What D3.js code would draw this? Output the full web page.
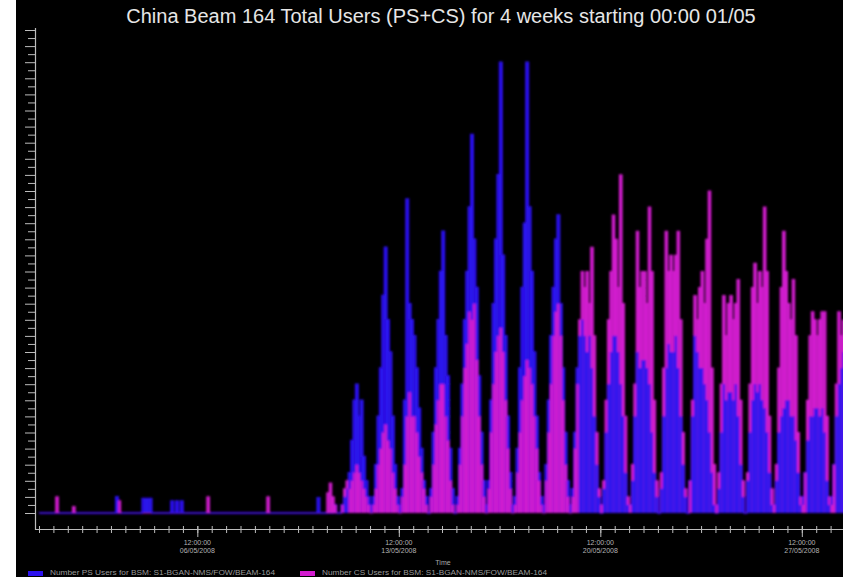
<!DOCTYPE html>
<html><head><meta charset="utf-8">
<script src="https://cdn.jsdelivr.net/npm/d3@7"></script>
<style>
html,body{margin:0;padding:0;background:#fff;}
svg{display:block;}
text{font-family:"Liberation Sans",Arial,sans-serif;}
</style></head><body>
<svg id="c" width="843" height="577"></svg>
<script>
const titleText = "China Beam 164 Total Users (PS+CS) for 4 weeks starting 00:00 01/05";
const seriesNames = ["Number PS Users for BSM: S1-BGAN-NMS/FOW/BEAM-164",
                     "Number CS Users for BSM: S1-BGAN-NMS/FOW/BEAM-164"];
const seriesColors = ["#2c12ee", "#d21ccf"];
const xAxisTitle = "Time";
const startTime = Date.UTC(2008, 4, 1, 0, 0);
const endTime = Date.UTC(2008, 4, 29, 0, 0);
const sampleHours = 2;
const majorTicks = [
  {t: Date.UTC(2008, 4, 6, 12), time: "12:00:00", date: "06/05/2008"},
  {t: Date.UTC(2008, 4, 13, 12), time: "12:00:00", date: "13/05/2008"},
  {t: Date.UTC(2008, 4, 20, 12), time: "12:00:00", date: "20/05/2008"},
  {t: Date.UTC(2008, 4, 27, 12), time: "12:00:00", date: "27/05/2008"}
];

// PS users, one value every 2 hours (12 per day)
const psWeek1 = [
  0,0,0,0,0,0,0,0,0,0,0,0,
  0,0,0,0,0,0,0,0,0,0,0,0,
  0,0,0,0,0,0,0,0,2,0,0,0,
  0,0,0,0,0,0,0,1.8,1.8,1.8,1.8,0,
  0,0,0,0,0,0,0,1.5,0,1.5,0,1.5,
  0,0,0,0,0,0,0,0,0,0,0,0,
  0,0,0,0,0,0,0,0,0,0,0,0];
const psWeek2 = [
  0,0,0,0,0,0,0,0,0,0,0,0,
  0,0,0,0,0,0,0,0,0,0,0,0,
  0,0,0,0,0,0,0,0,1.9,0,0,0,
  0,0,0,1,0,0,1,2,3,5,9,14,
  16,12,14,7,4,2,1,2,6,12,18,27,
  33,24,20,12,6,2,1,3,14,39,26,24,
  22,18,13,8,4,2,0,3,10,18,24,30];
const psWeek3 = [
  35,22,17,8,3,0,2,8,16,24,30,38,
  47,34,28,17,10,4,1,4,14,26,34,42,
  56,32,22,12,5,1,2,8,18,28,36,56,
  38,30,20,12,5,2,1,6,14,22,28,34,
  37,26,18,10,4,1,3,10,18,22,24,22,
  20,22,18,12,6,2,0,3,10,16,20,22,
  22,20,16,12,5,1,1,4,12,20,18,19];
const psWeek4 = [
  19,18,16,10,5,2,0,3,12,18,21,20,
  20,22,18,12,6,2,0,4,12,22,20,18,
  18,16,14,10,5,1,0,3,10,16,14,15,
  15,14,16,12,6,2,0,4,10,14,16,15,
  16,14,13,10,5,1,1,4,10,12,13,14,
  14,12,12,9,5,1,2,5,9,12,12,13,
  13,12,13,10,4,1,2,6,12,16,18,20];

// CS users, one value every 2 hours (12 per day)
const csWeek1 = [
  0,0,0,0,0,0,0,2,0,0,0,0,
  0,0,0.8,0,0,0,0,0,0,0,0,0,
  0,0,0,0,0,0,0,0,0,1.5,0,0,
  0,0,0,0,0,0,0,0,0,0,0,0,
  0,0,0,0,0,0,0,0,0,0,0,0,
  0,0,0,0,0,0,0,0,0,0,2,0,
  0,0,0,0,0,0,0,0,0,0,0,0];
const csWeek2 = [
  0,0,0,0,0,0,0,0,0,0,0,2,
  0,0,0,0,0,0,0,0,0,0,0,0,
  0,0,0,0,0,0,0,0,0,0,0,0,
  2.5,3.7,2,1,0,0,1,3,4,3,4,5,
  6,5,4,3,2,1,0,1,3,6,8,10,
  11,9,8,5,3,1,0,2,6,12,15,12,
  12,10,7,5,3,1,0,2,6,11,14,16];
const csWeek3 = [
  16,12,9,4,1,0,1,6,12,18,21,25,
  24,26,19,12,6,2,0,3,10,16,20,22,
  23,20,14,8,3,0,1,5,10,14,17,19,
  18,16,12,8,4,1,0,4,10,16,22,25,
  26,22,14,6,2,0,2,8,16,24,30,28,
  30,26,33,22,10,3,1,4,14,24,30,37,
  34,28,42,26,12,2,1,6,16,35,28,30];
const csWeek4 = [
  30,26,38,30,14,4,0,5,18,35,30,32,
  30,32,35,24,10,3,0,4,14,27,24,28,
  30,26,34,40,18,6,1,5,16,27,22,26,
  27,24,26,29,14,4,0,5,16,28,31,26,
  30,28,38,30,12,3,1,6,18,28,35,30,
  26,24,29,22,10,2,1,5,14,22,25,24,
  22,24,25,25,12,2,1,6,16,25,22,24];

const psUsers = [...psWeek1, ...psWeek2, ...psWeek3, ...psWeek4];
const csUsers = [...csWeek1, ...csWeek2, ...csWeek3, ...csWeek4];
const yMax = 60;

const svg = d3.select("#c");
const W = 843, H = 577;
svg.append("rect").attr("x", 16).attr("y", 0).attr("width", W - 16).attr("height", H).attr("fill", "#000");

const x = d3.scaleUtc().domain([startTime, endTime]).range([39, 845]);
const y = d3.scaleLinear().domain([0, yMax]).range([513, 30]);

const step = sampleHours * 3600 * 1000;
const rows = psUsers.map((v, i) => ({t: startTime + i * step, ps: v, cs: csUsers[i]}));

// blur filter to soften like the source image
const defs = svg.append("defs");
defs.append("filter").attr("id", "soft").attr("x", "-5%").attr("y", "-5%").attr("width", "110%").attr("height", "110%")
  .append("feGaussianBlur").attr("stdDeviation", 0.9);

const plot = svg.append("g").attr("filter", "url(#soft)");

// baseline lines from data (zero values visible)
const line = (key) => d3.line().x(d => x(d.t)).y(d => y(d[key])).curve(d3.curveStepAfter);
plot.append("path").datum(rows).attr("d", line("cs")).attr("fill", "none").attr("stroke", seriesColors[1]).attr("stroke-width", 1.2);
plot.append("path").datum(rows).attr("d", line("ps")).attr("fill", "none").attr("stroke", seriesColors[0]).attr("stroke-width", 1.6);

// bars: taller series first, shorter series on top
const bars = [];
rows.forEach(r => {
  const items = [{k: 0, v: r.ps, t: r.t}, {k: 1, v: r.cs, t: r.t}].sort((a, b) => b.v - a.v);
  items.forEach(it => bars.push(it));
});
plot.selectAll("rect.bar").data(bars).join("rect")
  .attr("class", "bar")
  .attr("x", d => x(d.t))
  .attr("width", d => x(d.t + step) - x(d.t) + 0.3)
  .attr("y", d => y(d.v))
  .attr("height", d => y(0) - y(d.v))
  .attr("fill", d => seriesColors[d.k]);

const axisColor = "#bdbdbd";

// Y axis
const yMinorVals = d3.range(1, yMax + 1, 2);
const yMajorVals = d3.range(0, yMax + 1, 2);
const gy1 = svg.append("g").attr("transform", "translate(35,0)")
  .call(d3.axisLeft(y).tickValues(yMinorVals).tickSize(7).tickFormat(""));
const gy2 = svg.append("g").attr("transform", "translate(35,0)")
  .call(d3.axisLeft(y).tickValues(yMajorVals).tickSize(10).tickFormat(""));
[gy1, gy2].forEach(g => {
  g.select(".domain").remove();
  g.selectAll("line").attr("stroke", axisColor).attr("stroke-width", 1);
});
svg.append("line").attr("x1", 35.5).attr("x2", 35.5).attr("y1", 28).attr("y2", 530).attr("stroke", axisColor).attr("stroke-width", 1.2);

// X axis
const minorTicks = d3.utcHour.every(12).range(new Date(startTime), new Date(endTime + 1));
const gx1 = svg.append("g").attr("transform", "translate(0,526)")
  .call(d3.axisBottom(x).tickValues(minorTicks).tickSize(7).tickFormat(""));
const gx2 = svg.append("g").attr("transform", "translate(0,526)")
  .call(d3.axisBottom(x).tickValues(majorTicks.map(d => new Date(d.t))).tickSize(11).tickFormat(""));
[gx1, gx2].forEach(g => {
  g.select(".domain").remove();
  g.selectAll("line").attr("stroke", axisColor).attr("stroke-width", 1);
});
svg.append("line").attr("x1", 35).attr("x2", 843).attr("y1", 529.5).attr("y2", 529.5).attr("stroke", axisColor).attr("stroke-width", 1.2);

const lab = svg.append("g").selectAll("text").data(majorTicks).join("text")
  .attr("x", d => x(d.t)).attr("text-anchor", "middle")
  .attr("fill", "#b4b4b4").attr("font-size", 7);
lab.append("tspan").attr("x", d => x(d.t)).attr("y", 545).text(d => d.time);
lab.append("tspan").attr("x", d => x(d.t)).attr("y", 553).text(d => d.date);

svg.append("text").attr("x", 443).attr("y", 565).attr("text-anchor", "middle")
  .attr("fill", "#a8a8a8").attr("font-size", 7).text(xAxisTitle);

// Title
svg.append("text").attr("x", 441).attr("y", 23).attr("text-anchor", "middle")
  .attr("fill", "#e6e6e6").attr("font-size", 20).text(titleText);

// Legend
const legendX = [28, 300];
seriesNames.forEach((name, i) => {
  svg.append("rect").attr("x", legendX[i]).attr("y", 571).attr("width", 15).attr("height", 5).attr("fill", seriesColors[i]);
  svg.append("text").attr("x", legendX[i] + 22).attr("y", 575).attr("fill", "#9a9a9a")
    .attr("font-size", 7).attr("textLength", 225).attr("lengthAdjust", "spacingAndGlyphs").text(name);
});
</script>
</body></html>
